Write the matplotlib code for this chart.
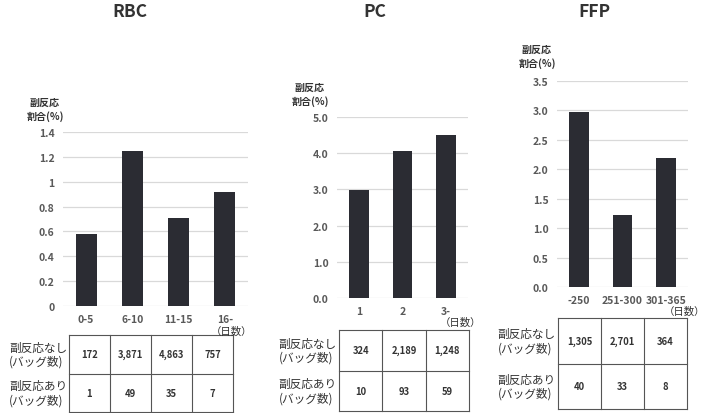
import matplotlib.pyplot as plt

plt.rcParams['font.family'] = ['Noto Sans CJK JP', 'DejaVu Sans']

# RBC
rbc_cats = ['0-5', '6-10', '11-15', '16-']
rbc_rate = [0.58, 1.25, 0.71, 0.92]
rbc_none = [172, 3871, 4863, 757]
rbc_with = [1, 49, 35, 7]
rbc_ticks = [0, 0.2, 0.4, 0.6, 0.8, 1, 1.2, 1.4]
rbc_ticklabels = ['0', '0.2', '0.4', '0.6', '0.8', '1', '1.2', '1.4']

# PC
pc_cats = ['1', '2', '3-']
pc_rate = [2.98, 4.07, 4.50]
pc_none = [324, 2189, 1248]
pc_with = [10, 93, 59]
pc_ticks = [0, 1, 2, 3, 4, 5]
pc_ticklabels = ['0.0', '1.0', '2.0', '3.0', '4.0', '5.0']

# FFP
ffp_cats = ['-250', '251-300', '301-365']
ffp_rate = [2.98, 1.23, 2.19]
ffp_none = [1305, 2701, 364]
ffp_with = [40, 33, 8]
ffp_ticks = [0, 0.5, 1, 1.5, 2, 2.5, 3, 3.5]
ffp_ticklabels = ['0.0', '0.5', '1.0', '1.5', '2.0', '2.5', '3.0', '3.5']

W, H = 705, 414
fig = plt.figure(figsize=(W / 100, H / 100), dpi=100)

BAR = '#2b2c33'
GRID = '#d9d9d9'
TICK = '#595959'
TXT = '#333333'


def box(x0, y0, x1, y1):
    # pixel box (top-left origin) -> figure fraction
    return [x0 / W, 1 - y1 / H, (x1 - x0) / W, (y1 - y0) / H]


def panel(title, title_x, cats, rate, ticks, ticklabels, none, with_,
          ax_box, tbl_box, ylab_xy, unit_xy):
    ax = fig.add_axes(box(*ax_box))
    x = range(len(cats))
    ax.bar(x, rate, width=0.45, color=BAR, zorder=3)
    ax.set_xlim(-0.5, len(cats) - 0.5)
    ax.set_ylim(ticks[0], ticks[-1])
    ax.set_yticks(ticks)
    ax.set_yticklabels(ticklabels, fontsize=7.5, fontweight='bold', color=TICK)
    ax.set_xticks(list(x))
    ax.set_xticklabels(cats, fontsize=7.5, fontweight='bold', color=TICK)
    ax.tick_params(length=0, pad=6)
    ax.grid(axis='y', color=GRID, lw=0.9, zorder=0)
    ax.set_axisbelow(True)
    for s in ax.spines.values():
        s.set_visible(False)

    fig.text(title_x / W, 1 - 12 / H, title, ha='center', va='center',
             fontsize=12.5, fontweight='bold', color=TXT)
    fig.text(ylab_xy[0] / W, 1 - ylab_xy[1] / H, '副反応\n割合(%)', ha='center',
             va='center', fontsize=7.2, fontweight='bold', color=TXT,
             linespacing=1.3)
    fig.text(unit_xy[0] / W, 1 - unit_xy[1] / H, '（日数）', ha='right',
             va='center', fontsize=7.5, color=TXT)

    t = fig.add_axes(box(*tbl_box))
    n = len(cats)
    t.set_xlim(0, n)
    t.set_ylim(0, 2)
    t.axis('off')
    for i in range(n + 1):
        t.plot([i, i], [0, 2], color='#555555', lw=0.8, clip_on=False)
    for j in range(3):
        t.plot([0, n], [j, j], color='#555555', lw=0.8, clip_on=False)
    for i in range(n):
        t.text(i + 0.5, 1.5, f'{none[i]:,}', ha='center', va='center',
               fontsize=6.8, fontweight='bold', color=TXT)
        t.text(i + 0.5, 0.5, f'{with_[i]:,}', ha='center', va='center',
               fontsize=6.8, fontweight='bold', color=TXT)
    t.text(-0.05, 1.5, '副反応なし\n(バッグ数)', transform=t.transData,
           ha='right', va='center', multialignment='left', fontsize=8.4,
           color=TXT, linespacing=1.15)
    t.text(-0.05, 0.5, '副反応あり\n(バッグ数)', transform=t.transData,
           ha='right', va='center', multialignment='left', fontsize=8.4,
           color=TXT, linespacing=1.15)


panel('RBC', 130, rbc_cats, rbc_rate, rbc_ticks, rbc_ticklabels,
      rbc_none, rbc_with, (63, 133, 248, 307), (69, 336, 233, 413),
      (45, 110), (252, 332))
panel('PC', 375, pc_cats, pc_rate, pc_ticks, pc_ticklabels,
      pc_none, pc_with, (337, 118, 468, 299), (339, 331, 469, 412),
      (310, 95), (481, 323))
panel('FFP', 594, ffp_cats, ffp_rate, ffp_ticks, ffp_ticklabels,
      ffp_none, ffp_with, (557, 82, 688, 288), (558, 319, 687, 410),
      (537, 57), (705, 312))

fig.savefig('out.png', dpi=100)
